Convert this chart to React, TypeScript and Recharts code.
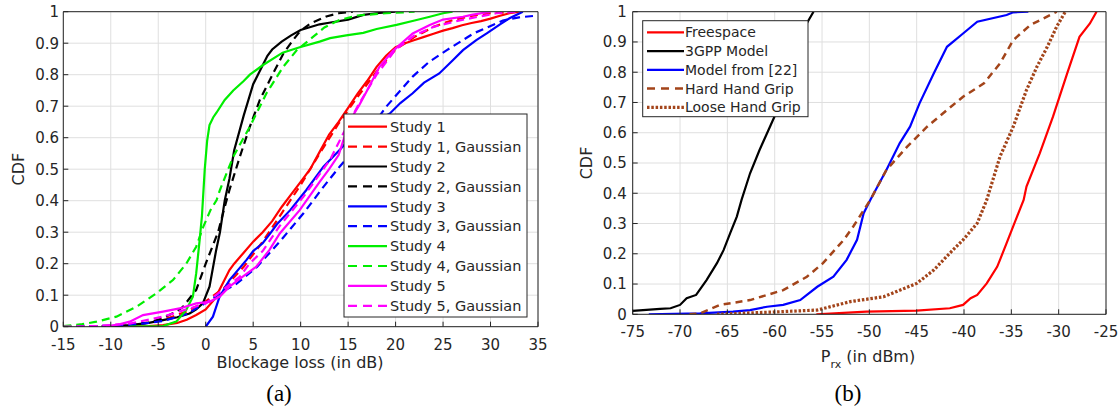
import React from 'react';
import { LineChart, Line, XAxis, YAxis, CartesianGrid } from 'recharts';

type Pt = [number, number];

const blockageTicks = [-15, -10, -5, 0, 5, 10, 15, 20, 25, 30, 35];
const prxTicks = [-75, -70, -65, -60, -55, -50, -45, -40, -35, -30, -25];
const cdfTicks = [0, 0.1, 0.2, 0.3, 0.4, 0.5, 0.6, 0.7, 0.8, 0.9, 1];

// ---- (a) Blockage loss CDFs ----
const study1: Pt[] = [[-8,0],[-6,0.002],[-4.5,0.005],[-3,0.012],[-2,0.022],[-1,0.037],[0,0.055],[1,0.09],[2,0.15],[2.5,0.18],[3,0.2],[4,0.235],[5,0.27],[6,0.3],[7,0.335],[8,0.38],[9,0.42],[10,0.46],[11,0.5],[12,0.555],[13,0.61],[14,0.65],[15,0.695],[16,0.74],[17,0.78],[18,0.825],[19,0.86],[20,0.887],[21,0.9],[22,0.91],[23,0.92],[24,0.93],[25,0.94],[26,0.948],[27,0.957],[28,0.964],[29,0.97],[30,0.978],[31,0.987],[32,0.995],[33,1]];
const study1Gauss: Pt[] = [[-15,0],[-12,0.001],[-10,0.003],[-8,0.007],[-6,0.013],[-4,0.027],[-2,0.048],[0,0.08],[2,0.125],[4,0.19],[6,0.27],[8,0.36],[10,0.45],[12,0.55],[14,0.645],[16,0.73],[18,0.81],[20,0.88],[22,0.92],[24,0.952],[26,0.973],[28,0.987],[30,0.995],[33,1]];
const study2: Pt[] = [[-11,0],[-8,0.005],[-6,0.012],[-4.5,0.021],[-3,0.03],[-1.7,0.042],[-1,0.055],[-0.3,0.074],[0.4,0.127],[1.1,0.243],[1.5,0.3],[2,0.4],[2.5,0.47],[3,0.56],[4,0.67],[5,0.77],[5.5,0.8],[6.5,0.86],[7,0.88],[8,0.905],[9,0.925],[10,0.942],[12,0.96],[13,0.965],[15,0.975],[16.6,0.99],[18,0.995],[20,1]];
const study2Gauss: Pt[] = [[-15,0],[-12.3,0.001],[-10,0.002],[-8,0.005],[-6,0.013],[-4.5,0.027],[-3,0.05],[-2.4,0.063],[-1,0.117],[0,0.2],[1.3,0.3],[2,0.38],[2.5,0.434],[3.6,0.54],[4.65,0.635],[5.7,0.72],[7.1,0.804],[8.2,0.868],[9.2,0.91],[10,0.94],[11,0.962],[12.7,0.985],[14,0.995],[15.5,1]];
const study3: Pt[] = [[0,0],[0.76,0.032],[1.46,0.095],[2.5,0.148],[4.3,0.212],[5,0.24],[6,0.265],[6.8,0.296],[7.5,0.325],[8.9,0.37],[10.6,0.434],[12.4,0.508],[14.1,0.561],[15,0.59],[16,0.615],[17,0.635],[18,0.655],[19.4,0.677],[20.5,0.71],[21.8,0.741],[23,0.775],[24.6,0.804],[26,0.845],[27.1,0.878],[28.5,0.91],[29.6,0.931],[31,0.96],[32,0.979],[33.4,1]];
const study3Gauss: Pt[] = [[-15,0],[-10,0.003],[-8,0.006],[-6,0.012],[-4.5,0.018],[-2,0.04],[0,0.075],[1.8,0.112],[3.2,0.135],[5.4,0.19],[7.8,0.27],[10.3,0.36],[12.4,0.444],[14.1,0.508],[16.2,0.58],[19,0.698],[21.8,0.794],[23.5,0.84],[25.4,0.878],[28.2,0.931],[31.3,0.972],[33,0.982],[35,0.988]];
const study4: Pt[] = [[-8,0],[-4.5,0.002],[-3.1,0.016],[-2.05,0.053],[-1.35,0.095],[-1,0.17],[-0.64,0.275],[-0.4,0.35],[-0.1,0.5],[0.15,0.59],[0.4,0.64],[0.8,0.665],[1.15,0.68],[2,0.72],[2.9,0.75],[4,0.78],[4.65,0.8],[6,0.83],[8.1,0.87],[9.9,0.887],[12,0.905],[13.1,0.916],[14.8,0.925],[16.6,0.933],[18,0.945],[20.1,0.958],[22,0.972],[23.6,0.984],[25,0.995],[26,1]];
const study4Gauss: Pt[] = [[-15,0.002],[-13,0.008],[-11.5,0.016],[-9.4,0.032],[-7.3,0.063],[-5.2,0.106],[-3.45,0.148],[-2.05,0.2],[-1,0.254],[-0.26,0.317],[0.5,0.37],[1.15,0.402],[1.5,0.434],[2.9,0.54],[4.65,0.635],[6.4,0.741],[8.16,0.825],[9.6,0.878],[11.3,0.92],[12.5,0.95],[14.1,0.974],[16,0.988],[19,0.995],[22,1]];
const study5: Pt[] = [[-10.5,0],[-9,0.008],[-8,0.016],[-6.6,0.037],[-4.5,0.048],[-2.75,0.058],[-1,0.074],[0.4,0.079],[1.46,0.095],[2.5,0.127],[3.9,0.159],[5.3,0.19],[6.7,0.243],[7.8,0.296],[9.9,0.37],[12,0.46],[13,0.5],[14,0.545],[14.8,0.62],[15.5,0.67],[16.2,0.705],[17,0.75],[18.3,0.825],[19.7,0.875],[21.8,0.931],[23.6,0.958],[25,0.975],[27.1,0.984],[28,0.99],[30,1]];
const study5Gauss: Pt[] = [[-15,0],[-11.5,0.002],[-8,0.01],[-4.5,0.032],[-1.7,0.058],[0,0.074],[1.8,0.117],[3.6,0.159],[4.6,0.2],[6,0.24],[7.8,0.32],[10.3,0.413],[13.1,0.53],[14.5,0.614],[16,0.7],[18,0.8],[20,0.88],[22,0.925],[24,0.952],[27,0.974],[30.6,0.995],[33,1]];

// ---- (b) Received power CDFs ----
const freespace: Pt[] = [[-55.6,0],[-50.3,0.009],[-45,0.012],[-41.5,0.02],[-40.1,0.031],[-39.3,0.053],[-38.6,0.064],[-37.6,0.102],[-36.5,0.157],[-36.2,0.18],[-35.5,0.235],[-34.4,0.323],[-33.7,0.378],[-33.4,0.422],[-32,0.532],[-30.6,0.653],[-29.1,0.796],[-27.8,0.917],[-26.7,0.961],[-26,1]];
const gpp3: Pt[] = [[-75,0.011],[-72.1,0.018],[-71,0.02],[-70,0.031],[-69.3,0.053],[-68.3,0.064],[-67.2,0.113],[-66.1,0.169],[-65.4,0.212],[-64.7,0.268],[-64,0.323],[-63.5,0.378],[-62.6,0.466],[-61.6,0.543],[-60.5,0.62],[-59.4,0.697],[-58,0.84],[-56.6,0.962],[-55.9,1]];
const model22: Pt[] = [[-73.3,0],[-67.9,0.003],[-64.4,0.009],[-62.6,0.014],[-60.8,0.025],[-59.1,0.031],[-57.3,0.047],[-55.5,0.091],[-53.8,0.124],[-52.4,0.18],[-51.3,0.246],[-50.6,0.334],[-49.9,0.378],[-48.2,0.477],[-46.8,0.565],[-45.7,0.62],[-44.7,0.697],[-43.2,0.796],[-41.8,0.884],[-40.1,0.928],[-38.6,0.967],[-35.5,0.989],[-34.8,0.998],[-33.2,1]];
const hardGrip: Pt[] = [[-69,0],[-67.9,0.003],[-65.8,0.031],[-62.6,0.047],[-59.1,0.08],[-56.6,0.124],[-54.9,0.169],[-52.7,0.246],[-51.7,0.29],[-49.9,0.378],[-48.2,0.477],[-46,0.554],[-43.9,0.62],[-41.8,0.675],[-40.1,0.719],[-37.9,0.763],[-36.2,0.829],[-34.8,0.906],[-33,0.956],[-30.9,0.989],[-30.2,1]];
const looseGrip: Pt[] = [[-66.1,0],[-59.1,0.009],[-55.5,0.014],[-52,0.042],[-48.5,0.058],[-45,0.102],[-43.2,0.146],[-41.5,0.202],[-40.1,0.246],[-38.6,0.301],[-37.6,0.378],[-36.2,0.521],[-34.8,0.62],[-33.4,0.741],[-32.3,0.818],[-31.2,0.884],[-30.2,0.951],[-29.3,1]];

const RED = '#ff0000', BLACK = '#000000', BLUE = '#0000ff', GREEN = '#00ee00', MAGENTA = '#ff00ff', BROWN = '#a3441a';
const DASH = '8 5';

type Series = { name: string; data: Pt[]; color: string; dash?: string; width: number; legendDash?: string };

const seriesA: Series[] = [
  { name: 'Study 1', data: study1, color: RED, width: 2.2 },
  { name: 'Study 1, Gaussian', data: study1Gauss, color: RED, dash: DASH, legendDash: '9 6', width: 2.2 },
  { name: 'Study 2', data: study2, color: BLACK, width: 2.2 },
  { name: 'Study 2, Gaussian', data: study2Gauss, color: BLACK, dash: DASH, legendDash: '9 6', width: 2.2 },
  { name: 'Study 3', data: study3, color: BLUE, width: 2.2 },
  { name: 'Study 3, Gaussian', data: study3Gauss, color: BLUE, dash: DASH, legendDash: '9 6', width: 2.2 },
  { name: 'Study 4', data: study4, color: GREEN, width: 2.2 },
  { name: 'Study 4, Gaussian', data: study4Gauss, color: GREEN, dash: DASH, legendDash: '9 6', width: 2.2 },
  { name: 'Study 5', data: study5, color: MAGENTA, width: 2.2 },
  { name: 'Study 5, Gaussian', data: study5Gauss, color: MAGENTA, dash: DASH, legendDash: '9 6', width: 2.2 },
];

const seriesB: Series[] = [
  { name: 'Freespace', data: freespace, color: RED, width: 2.2 },
  { name: '3GPP Model', data: gpp3, color: BLACK, width: 2.2 },
  { name: 'Model from [22]', data: model22, color: BLUE, width: 2.2 },
  { name: 'Hard Hand Grip', data: hardGrip, color: BROWN, dash: '7 5', legendDash: '8 6', width: 2.5 },
  { name: 'Loose Hand Grip', data: looseGrip, color: BROWN, dash: '2.5 1.8', legendDash: '2.5 1.8', width: 3.2 },
];

const pts = (a: Pt[]) => a.map(([x, y]) => ({ x, y }));

const FONT = '"DejaVu Sans", sans-serif';
const AX = '#262626';
const GRID = '#dfdfdf';

function axes(xDomain: number[], xTicks: number[], xMargin: number, yMargin: number) {
  const tickStyle = { fill: AX, fontSize: 15, fontFamily: FONT };
  const lineStyle = { stroke: AX, strokeWidth: 1 };
  return [
    <XAxis key="xb" xAxisId={0} type="number" dataKey="x" domain={xDomain} ticks={xTicks} interval={0}
      allowDataOverflow height={1} tickSize={-5} tickMargin={xMargin} axisLine={lineStyle} tickLine={lineStyle} tick={tickStyle} />,
    <XAxis key="xt" xAxisId="top" orientation="top" type="number" dataKey="x" domain={xDomain} ticks={xTicks} interval={0}
      allowDataOverflow height={1} tickSize={-5} axisLine={lineStyle} tickLine={lineStyle} tick={false} />,
    <YAxis key="yl" yAxisId={0} type="number" domain={[0, 1]} ticks={cdfTicks} interval={0}
      allowDataOverflow width={1} tickSize={-5} tickMargin={yMargin} axisLine={lineStyle} tickLine={lineStyle} tick={tickStyle} />,
    <YAxis key="yr" yAxisId="right" orientation="right" type="number" domain={[0, 1]} ticks={cdfTicks} interval={0}
      allowDataOverflow width={1} tickSize={-5} axisLine={lineStyle} tickLine={lineStyle} tick={false} />,
  ];
}

function lines(series: Series[]) {
  return series.map((s) => (
    <Line key={s.name} xAxisId={0} yAxisId={0} data={pts(s.data)} dataKey="y" type="linear" stroke={s.color}
      strokeWidth={s.width} strokeDasharray={s.dash} dot={false} activeDot={false} isAnimationActive={false} />
  ));
}

function Legend({ series, x, y, w, h, rowY0, rowStep, lx0, lx1, tx, fs }: any) {
  return (
    <g>
      <rect x={x} y={y} width={w} height={h} fill="#ffffff" stroke={AX} strokeWidth={1} />
      {series.map((s: Series, i: number) => {
        const cy = rowY0 + i * rowStep;
        return (
          <g key={s.name}>
            <line x1={lx0} x2={lx1} y1={cy} y2={cy} stroke={s.color} strokeWidth={s.width} strokeDasharray={s.legendDash} />
            <text x={tx} y={cy} dy="0.36em" fontSize={fs} fontFamily={FONT} fill={AX}>{s.name}</text>
          </g>
        );
      })}
    </g>
  );
}

export default function App() {
  return (
    <div style={{ position: 'absolute', left: 0, top: 0, width: 1120, height: 409, background: '#ffffff', overflow: 'hidden' }}>
      <div style={{ position: 'absolute', left: 0, top: 0 }}>
        <LineChart width={560} height={409} margin={{ top: 10.7, right: 21, bottom: 81.3, left: 62.3 }}>
          <CartesianGrid stroke={GRID} strokeWidth={1} />
          {axes([-15, 35], blockageTicks, 17.3, 9.3)}
          {lines(seriesA)}
        </LineChart>
      </div>
      <div style={{ position: 'absolute', left: 560, top: 0 }}>
        <LineChart width={560} height={409} margin={{ top: 10.7, right: 13, bottom: 93.7, left: 71.7 }}>
          <CartesianGrid stroke={GRID} strokeWidth={1} />
          {axes([-75, -25], prxTicks, 17, 11)}
          {lines(seriesB)}
        </LineChart>
      </div>
      <svg width={1120} height={409} style={{ position: 'absolute', left: 0, top: 0, pointerEvents: 'none' }}>
        <text transform="translate(18.3,169.2) rotate(-90)" textAnchor="middle" dy="0.36em" fontSize={16} fontFamily={FONT} fill={AX}>CDF</text>
        <text transform="translate(586.7,163) rotate(-90)" textAnchor="middle" dy="0.36em" fontSize={16} fontFamily={FONT} fill={AX}>CDF</text>
        <text x={300} y={367.5} textAnchor="middle" fontSize={16} fontFamily={FONT} fill={AX}>Blockage loss (in dB)</text>
        <text x={868} y={361.5} textAnchor="middle" fontSize={16} fontFamily={FONT} fill={AX}>
          <tspan>P</tspan>
          <tspan dy={6} fontSize={11}>rx</tspan>
          <tspan dy={-6}> (in dBm)</tspan>
        </text>
        <text x={279} y={401} textAnchor="middle" fontSize={23} fontFamily='"Liberation Serif", "Times New Roman", serif' fill="#000">(a)</text>
        <text x={848} y={401} textAnchor="middle" fontSize={23} fontFamily='"Liberation Serif", "Times New Roman", serif' fill="#000">(b)</text>
        <Legend series={seriesA} x={344} y={114} w={183} h={203} rowY0={126.7} rowStep={19.9} lx0={348} lx1={387} tx={390} fs={14.5} />
        <Legend series={seriesB} x={642.7} y={20.7} w={165.3} h={96} rowY0={32.3} rowStep={18.75} lx0={647} lx1={684} tx={685} fs={14} />
      </svg>
    </div>
  );
}
